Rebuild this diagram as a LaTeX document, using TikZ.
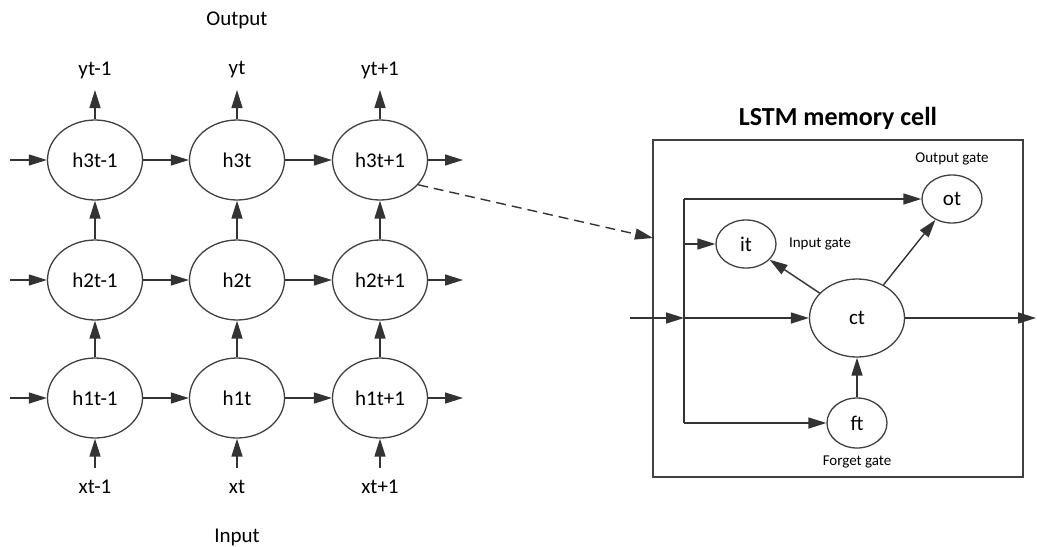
\documentclass[tikz,border=0pt]{standalone}
\usepackage{fontspec}
\setmainfont{Carlito}
\usetikzlibrary{positioning, calc}
\usetikzlibrary{shapes.geometric, arrows.meta}

\begin{document}
\begin{tikzpicture}[x=0.5pt,y=-0.5pt,
        hcell/.style={ellipse,draw=black!75,line width=0.65pt,minimum width=47.5pt,minimum height=40pt,inner sep=0pt,font=\fontsize{10.5}{12}\selectfont},
        gatecell/.style={ellipse,draw=black!75,line width=0.65pt,minimum width=30pt,minimum height=24pt,inner sep=0pt,font=\fontsize{10.5}{12}\selectfont},
        arr/.style={draw=black!80,line width=0.7pt,-{Triangle[length=9pt,width=5.5pt]}},
        wire/.style={draw=black!80,line width=0.7pt},
        lbl/.style={font=\fontsize{10.5}{12}\selectfont},
        gatelbl/.style={font=\fontsize{7.5}{9}\selectfont}]
    \useasboundingbox (0,0) rectangle (1037,546);

    % stacked recurrent layers
    \foreach \c/\x/\t in {1/95/t-1, 2/237/t, 3/380/t+1} {
        \node[hcell] (h1\c) at (\x,398) {h1\t};
        \node[hcell] (h2\c) at (\x,280) {h2\t};
        \node[hcell] (h3\c) at (\x,160) {h3\t};
        \coordinate (xin\c) at (\x,468);
        \coordinate (yout\c) at (\x,90);
        \node[lbl] (xl\c) at (\x,487) {x\t};
        \node[lbl] (yl\c) at (\x,70) {y\t};
        \draw[arr] (xin\c) -- (h1\c);
        \draw[arr] (h1\c) -- (h2\c);
        \draw[arr] (h2\c) -- (h3\c);
        \draw[arr] (h3\c) -- (yout\c);
    }
    \foreach \r/\y in {1/398, 2/280, 3/160} {
        \coordinate (left\r) at (10,\y);
        \coordinate (right\r) at (463,\y);
        \draw[arr] (left\r) -- (h\r1);
        \draw[arr] (h\r1) -- (h\r2);
        \draw[arr] (h\r2) -- (h\r3);
        \draw[arr] (h\r3) -- (right\r);
    }
    \node[lbl] (outlbl) at (237,20) {Output};
    \node[lbl] (inlbl) at (237,537) {Input};

    % memory cell
    \node[draw=black!75,line width=0.65pt,minimum width=185pt,minimum height=168.5pt,inner sep=0pt] (box) at (838,308.5) {};
    \node[font=\fontsize{13}{15}\selectfont\bfseries] (title) at (838,118) {LSTM memory cell};
    \coordinate (dashend) at (653,238);
    \draw[arr,dash pattern=on 5pt off 3pt] (h33.-33) -- (dashend);

    \node[hcell,minimum height=39pt] (ct) at (857,318) {ct};
    \node[gatecell] (it) at (746,244) {it};
    \node[gatecell] (ot) at (952,199) {ot};
    \node[gatecell,minimum height=25pt] (ft) at (857,423) {ft};
    \node[gatelbl,anchor=west] (itlbl) at (782,244) {Input gate};
    \node[gatelbl] (otlbl) at (952,159) {Output gate};
    \node[gatelbl] (ftlbl) at (857,462) {Forget gate};

    \coordinate (cin) at (630,318);
    \coordinate (jn) at (684,318);
    \coordinate (jtop) at (684,199);
    \coordinate (jit) at (684,244);
    \coordinate (jbot) at (684,423);
    \coordinate (cout) at (1036,318);
    \draw[wire] (jtop) -- (jbot);
    \draw[arr] (cin) -- (jn);
    \draw[arr] (jn) -- (ct);
    \draw[arr] (jtop) -- (ot);
    \draw[arr] (jit) -- (it);
    \draw[arr] (jbot) -- (ft);
    \draw[arr] (ct) -- (it);
    \draw[arr] (ct) -- (ot);
    \draw[arr] (ft) -- (ct);
    \draw[arr] (ct) -- (cout);
\end{tikzpicture}
\end{document}
